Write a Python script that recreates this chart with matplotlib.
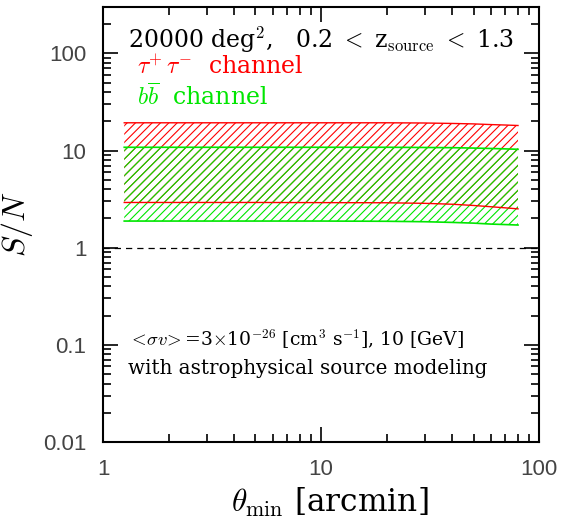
import matplotlib
matplotlib.use("Agg")
import matplotlib.pyplot as plt
from matplotlib.ticker import FixedLocator, FixedFormatter, LogLocator, NullFormatter

plt.rcParams['mathtext.fontset'] = 'cm'
plt.rcParams['font.family'] = 'serif'
plt.rcParams['font.serif'] = ['DejaVu Serif']
plt.rcParams['hatch.linewidth'] = 0.8

# S/N bands vs minimum angular scale
theta = [1.25, 2, 5, 10, 20, 30, 40, 50, 60, 70, 80]
tau_hi = [19.3, 19.3, 19.3, 19.3, 19.3, 19.2, 19.0, 18.8, 18.5, 18.3, 18.1]
tau_lo = [2.92, 2.92, 2.92, 2.91, 2.90, 2.86, 2.80, 2.72, 2.64, 2.57, 2.51]
bb_hi = [10.8, 10.8, 10.8, 10.8, 10.8, 10.75, 10.7, 10.6, 10.5, 10.4, 10.3]
bb_lo = [1.88, 1.88, 1.88, 1.88, 1.87, 1.85, 1.82, 1.79, 1.75, 1.73, 1.71]

yticks = [0.01, 0.1, 1, 10, 100]
ytick_labels = ['0.01', '0.1', '1', '10', '100']
xticks = [1, 10, 100]
xtick_labels = ['1', '10', '100']

green = '#00e600'

fig = plt.figure(figsize=(5.76, 5.2), dpi=100)
ax = fig.add_axes([0.179, 0.15, 0.757, 0.8365])
ax.set_xscale('log')
ax.set_yscale('log')
ax.set_xlim(1, 100)
ax.set_ylim(0.01, 300)

ax.fill_between(theta, tau_lo, tau_hi, facecolor='none', edgecolor='red',
                hatch='////', linewidth=0)
ax.plot(theta, tau_hi, color='red', lw=1)
ax.plot(theta, tau_lo, color='red', lw=1)
ax.fill_between(theta, bb_lo, bb_hi, facecolor='none', edgecolor=green,
                hatch='////', linewidth=0)
ax.plot(theta, bb_hi, color=green, lw=1.2)
ax.plot(theta, bb_lo, color=green, lw=1.2)

ax.axhline(1, color='black', lw=0.9, ls=(0, (5, 4)))

ax.xaxis.set_major_locator(FixedLocator(xticks))
ax.xaxis.set_major_formatter(FixedFormatter(xtick_labels))
ax.xaxis.set_minor_locator(LogLocator(base=10, subs=range(2, 10)))
ax.xaxis.set_minor_formatter(NullFormatter())
ax.yaxis.set_major_locator(FixedLocator(yticks))
ax.yaxis.set_major_formatter(FixedFormatter(ytick_labels))
ax.yaxis.set_minor_locator(LogLocator(base=10, subs=range(2, 10)))
ax.yaxis.set_minor_formatter(NullFormatter())

ax.tick_params(which='both', direction='in', top=True, right=True, width=1.2)
ax.tick_params(which='major', length=11, pad=12)
ax.tick_params(which='minor', length=6)
for lbl in ax.get_xticklabels() + ax.get_yticklabels():
    lbl.set_family('Liberation Sans')
    lbl.set_fontsize(16)
    lbl.set_color('#444444')
for s in ax.spines.values():
    s.set_linewidth(1.5)

ax.set_xlabel(r'$\theta_{\rm min}$ [arcmin]', fontsize=22.5, labelpad=4)
ax.xaxis.label.set_x(0.52)
ax.set_ylabel(r'$S/N$', fontsize=23, labelpad=6)

ax.text(0.057, 0.925, r'20000 deg$^2$,   0.2 $<$ z$_{\rm source}$ $<$ 1.3',
        transform=ax.transAxes, fontsize=17, va='center')
ax.text(0.077, 0.862, r'$\tau^{+}\,\tau^{-}$  channel', color='red',
        transform=ax.transAxes, fontsize=17, va='center')
ax.text(0.077, 0.795, r'$b\overline{b}$  channel', color=green,
        transform=ax.transAxes, fontsize=17, va='center')
ax.text(0.057, 0.236, r'$<\!\sigma v\!>$=3$\times$10$^{-26}$ [cm$^3$ s$^{-1}$], 10 [GeV]',
        transform=ax.transAxes, fontsize=13.5, va='center')
ax.text(0.057, 0.168, 'with astrophysical source modeling',
        transform=ax.transAxes, fontsize=14.3, va='center')

fig.savefig('out.png', dpi=100)
